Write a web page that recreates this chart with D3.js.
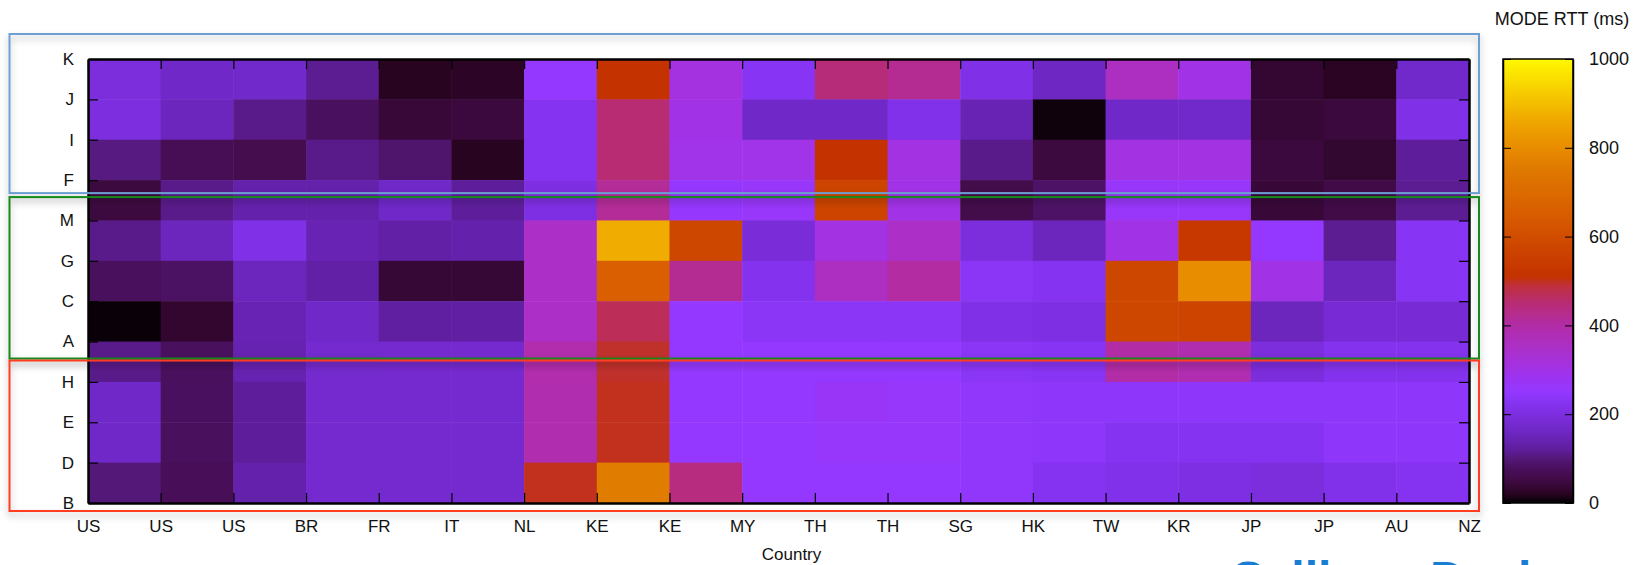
<!DOCTYPE html>
<html>
<head>
<meta charset="utf-8">
<script src="https://cdn.jsdelivr.net/npm/d3@7"></script>
<style>
  html, body { margin: 0; padding: 0; background: #fff; }
  svg text { font-family: "Liberation Sans", Arial, Helvetica, sans-serif; fill: #111; }
</style>
</head>
<body>
<svg id="chart" width="1642" height="565"></svg>
<script>
// tick labels along the bottom (cells sit between them)
const countries = ["US", "US", "US", "BR", "FR", "IT", "NL", "KE", "KE", "MY",
  "TH", "TH", "SG", "HK", "TW", "KR", "JP", "JP", "AU", "NZ"];
// tick labels down the left side, top to bottom
const rowLabels = ["K", "J", "I", "F", "M", "G", "C", "A", "H", "E", "D", "B"];

// mode RTT (ms), one row per band from top to bottom, 19 cells each
const rttK = [195, 165, 170, 115, 20, 25, 250, 510, 310, 230, 445, 420, 210, 160, 360, 300, 35, 22, 170];
const rttJ = [200, 155, 110, 80, 40, 45, 225, 450, 300, 165, 165, 215, 145, 8, 165, 170, 38, 45, 210];
const rttI = [105, 70, 62, 110, 90, 20, 225, 450, 295, 295, 510, 305, 110, 48, 305, 305, 45, 33, 120];
const rttF = [48, 110, 135, 135, 165, 120, 205, 415, 255, 265, 570, 300, 58, 85, 265, 265, 40, 55, 115];
const rttM = [110, 155, 210, 145, 130, 135, 350, 870, 580, 190, 305, 350, 195, 155, 300, 530, 250, 115, 230];
const rttG = [78, 82, 155, 130, 38, 38, 350, 660, 420, 220, 360, 405, 235, 225, 580, 800, 300, 155, 230];
const rttC = [5, 32, 145, 165, 125, 128, 350, 470, 250, 235, 235, 235, 210, 205, 580, 570, 155, 185, 185];
const rttA = [110, 78, 140, 175, 178, 178, 390, 495, 250, 250, 250, 250, 235, 230, 400, 385, 195, 220, 220];
const rttH = [165, 80, 120, 178, 178, 178, 385, 500, 250, 250, 270, 260, 245, 240, 240, 240, 240, 240, 240];
const rttE = [165, 78, 120, 178, 178, 178, 385, 500, 250, 250, 260, 260, 245, 240, 225, 225, 225, 240, 240];
const rttD = [100, 72, 135, 178, 178, 178, 500, 760, 440, 250, 250, 250, 245, 225, 215, 205, 195, 215, 225];
const rows = [rttK, rttJ, rttI, rttF, rttM, rttG, rttC, rttA, rttH, rttE, rttD];

const colorTicks = [0, 200, 400, 600, 800, 1000];

// palette (gnuplot-like black -> purple -> magenta -> red -> orange -> yellow)
const palStops = [0, 20, 40, 60, 80, 100, 120, 140, 165, 190, 210, 230, 250, 280, 300,
  350, 400, 450, 490, 510, 570, 650, 760, 800, 870, 1000];
const palColors = ["#000000", "#280420", "#380838", "#440c4c", "#4a1060", "#541878", "#5e1e9c",
  "#6622b0", "#7028c8", "#7a2cd8", "#8030e6", "#8834f4", "#9438ff", "#9c34f2", "#a232e6",
  "#ac30c8", "#b22ca6", "#b82c74", "#c0303a", "#c43200", "#cc4400", "#d85c00", "#e07c00",
  "#e88c00", "#f0ac00", "#fff800"];
const color = d3.scaleLinear().domain(palStops).range(palColors).clamp(true);

const svg = d3.select("#chart");
const margin = { top: 59, right: 173, bottom: 62, left: 88 };
const W = 1642, H = 565;

const x = d3.scaleLinear().domain([0, countries.length - 1]).range([margin.left, W - margin.right]);
const y = d3.scaleLinear().domain([0, rowLabels.length - 1]).range([margin.top, H - margin.bottom]);

// cells
const cells = [];
rows.forEach((r, ri) => r.forEach((v, ci) => cells.push({ ri, ci, v })));

svg.append("g").selectAll("rect")
  .data(cells)
  .join("rect")
  .attr("x", d => x(d.ci))
  .attr("y", d => y(d.ri))
  .attr("width", d => x(d.ci + 1) - x(d.ci) + 0.5)
  .attr("height", d => y(d.ri + 1) - y(d.ri) + 0.5)
  .attr("fill", d => color(d.v));

// axes, ticks pointing inward
const xIdx = d3.range(countries.length);
const yIdx = d3.range(rowLabels.length);

svg.append("g")
  .attr("transform", `translate(0,${y.range()[1]})`)
  .call(d3.axisBottom(x).tickValues(xIdx).tickFormat(i => countries[i])
    .tickSize(-10).tickSizeOuter(0).tickPadding(17));
svg.append("g")
  .attr("transform", `translate(0,${y.range()[0]})`)
  .call(d3.axisTop(x).tickValues(xIdx).tickFormat("").tickSize(-10).tickSizeOuter(0));
svg.append("g")
  .attr("transform", `translate(${x.range()[0]},0)`)
  .call(d3.axisLeft(y).tickValues(yIdx).tickFormat(i => rowLabels[i])
    .tickSize(-10).tickSizeOuter(0).tickPadding(14));
svg.append("g")
  .attr("transform", `translate(${x.range()[1]},0)`)
  .call(d3.axisRight(y).tickValues(yIdx).tickFormat("").tickSize(-10).tickSizeOuter(0));

svg.selectAll(".domain").attr("stroke", "#000").attr("stroke-width", 2.5);
svg.selectAll(".tick line").attr("stroke", "#000").attr("stroke-width", 1.2);
svg.selectAll(".tick text").style("font-size", "17px").attr("fill", "#111");

svg.append("text")
  .attr("x", (x.range()[0] + x.range()[1]) / 2 + 13)
  .attr("y", 560)
  .attr("text-anchor", "middle")
  .style("font-size", "17px")
  .text("Country");

// colour bar
const cbX = 1503, cbW = 70;
const cb = d3.scaleLinear().domain([0, 1000]).range([y.range()[1], y.range()[0]]);

const defs = svg.append("defs");
const grad = defs.append("linearGradient")
  .attr("id", "cbgrad").attr("x1", 0).attr("y1", 1).attr("x2", 0).attr("y2", 0);
grad.selectAll("stop")
  .data(d3.range(0, 1001, 10))
  .join("stop")
  .attr("offset", d => d / 1000)
  .attr("stop-color", d => color(d));

svg.append("rect")
  .attr("x", cbX).attr("y", cb(1000))
  .attr("width", cbW).attr("height", cb(0) - cb(1000))
  .attr("fill", "url(#cbgrad)")
  .attr("stroke", "#000").attr("stroke-width", 1.5);

const gcb = svg.append("g")
  .attr("transform", `translate(${cbX + cbW},0)`)
  .call(d3.axisRight(cb).tickValues(colorTicks).tickFormat(d3.format("d"))
    .tickSize(-8).tickSizeOuter(0).tickPadding(16));
const gcbL = svg.append("g")
  .attr("transform", `translate(${cbX},0)`)
  .call(d3.axisLeft(cb).tickValues(colorTicks).tickFormat("").tickSize(-8).tickSizeOuter(0));
gcb.selectAll(".tick text").style("font-size", "18px");
gcb.select(".domain").attr("stroke-width", 1.5);
gcbL.select(".domain").attr("stroke-width", 1.5);
svg.selectAll(".tick line").attr("stroke", "#000");

svg.append("text")
  .attr("x", 1562).attr("y", 25)
  .attr("text-anchor", "middle")
  .style("font-size", "18px")
  .text("MODE RTT (ms)");

// highlight boxes round the row groups
const shadow = defs.append("filter").attr("id", "shadow")
  .attr("x", "-5%").attr("y", "-20%").attr("width", "110%").attr("height", "150%");
shadow.append("feDropShadow")
  .attr("dx", 0).attr("dy", 4).attr("stdDeviation", 3.5)
  .attr("flood-color", "#000").attr("flood-opacity", 0.3);

const groups = [
  { from: 0, to: 3, top: -25, bottom: 13, stroke: "#6c9fd2" },
  { from: 3, to: 7, top: 17, bottom: 17, stroke: "#17891b" },
  { from: 7, to: 11, top: 19, bottom: 8, stroke: "#ff3d20" }
];
svg.append("g").selectAll("rect")
  .data(groups)
  .join("rect")
  .attr("x", 9.5)
  .attr("y", d => y(d.from) + d.top)
  .attr("width", 1479 - 9.5)
  .attr("height", d => (y(d.to) + d.bottom) - (y(d.from) + d.top))
  .attr("fill", "none")
  .attr("stroke", d => d.stroke)
  .attr("stroke-width", 2)
  .attr("filter", "url(#shadow)");

// watermark, cut by the bottom edge as in the original
svg.append("text")
  .attr("x", 1230).attr("y", 595)
  .style("font-size", "48px")
  .style("font-weight", "bold")
  .style("fill", "#1a7dd4")
  .text("Calliope Design");
</script>
</body>
</html>
